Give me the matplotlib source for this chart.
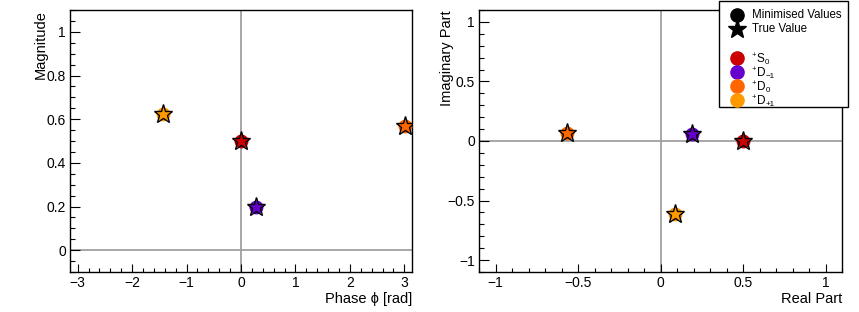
import matplotlib
matplotlib.use("Agg")
import matplotlib.pyplot as plt
from matplotlib.ticker import MultipleLocator, FuncFormatter
from matplotlib.patches import Rectangle

plt.rcParams['font.family'] = ['Liberation Sans', 'DejaVu Sans']
plt.rcParams['axes.unicode_minus'] = True

# ---- data ----
waves = ['S0', 'D-1', 'D0', 'D+1']
wave_letters = ['S', 'D', 'D', 'D']
wave_subs = ['0', '\u22121', '0', '+1']
colors = ['#cc0000', '#6600cc', '#ff6600', '#ff9900']
phase = [0.0, 0.28, 3.01, -1.43]
magnitude = [0.50, 0.20, 0.57, 0.625]
real_part = [0.50, 0.19, -0.565, 0.09]
imag_part = [0.0, 0.055, 0.07, -0.615]
legend_header = ['Minimised Values', 'True Value']

fig = plt.figure(figsize=(8.59, 3.12), dpi=100)
W, H = 859, 312

def ax_at(x0, y0, x1, y1):
    return fig.add_axes([x0 / W, 1 - y1 / H, (x1 - x0) / W, (y1 - y0) / H])

ax1 = ax_at(70, 10, 412, 272)
ax2 = ax_at(479, 10, 842, 272)

def fmt(v, pos):
    s = ('%g' % round(v, 6))
    if s == '-0':
        s = '0'
    return s.replace('-', '\u2212')

def style(ax, xmaj, xmin, ymaj, ymin):
    ax.xaxis.set_major_locator(MultipleLocator(xmaj))
    ax.xaxis.set_minor_locator(MultipleLocator(xmin))
    ax.yaxis.set_major_locator(MultipleLocator(ymaj))
    ax.yaxis.set_minor_locator(MultipleLocator(ymin))
    ax.xaxis.set_major_formatter(FuncFormatter(fmt))
    ax.yaxis.set_major_formatter(FuncFormatter(fmt))
    ax.tick_params(axis='x', which='major', direction='in', length=5.8, width=0.8, labelsize=10, pad=3)
    ax.tick_params(axis='x', which='minor', direction='in', length=2.9, width=0.8)
    ax.tick_params(axis='y', which='major', direction='in', length=7.4, width=0.8, labelsize=10, pad=3)
    ax.tick_params(axis='y', which='minor', direction='in', length=3.7, width=0.8)
    for s in ax.spines.values():
        s.set_linewidth(1.0)
    ax.axhline(0, color='#a0a0a0', lw=1.3, zorder=1)
    ax.axvline(0, color='#a0a0a0', lw=1.3, zorder=1)

style(ax1, 1, 0.2, 0.2, 0.05)
ax1.set_xlim(-3.14159, 3.14159)
ax1.set_ylim(-0.1, 1.1)
style(ax2, 0.5, 0.1, 0.5, 0.1)
ax2.set_xlim(-1.1, 1.1)
ax2.set_ylim(-1.1, 1.1)

for i in range(len(waves)):
    ax1.plot(phase[i], magnitude[i], 'o', ms=9, color=colors[i], mec=colors[i], zorder=3)
    ax1.plot(phase[i], magnitude[i], '*', ms=14, mfc='none', mec='black', mew=1.0, zorder=4)
    ax2.plot(real_part[i], imag_part[i], 'o', ms=9, color=colors[i], mec=colors[i], zorder=3)
    ax2.plot(real_part[i], imag_part[i], '*', ms=14, mfc='none', mec='black', mew=1.0, zorder=4)

# axis titles ROOT-style
ax1.set_xlabel('Phase \u03d5 [rad]', fontsize=10.5, loc='right', labelpad=1)
ax1.set_ylabel('Magnitude', fontsize=10.5, loc='top')
ax2.set_xlabel('Real Part', fontsize=10.5, loc='right', labelpad=1)
ax2.set_ylabel('Imaginary Part', fontsize=10.5, loc='top')
ax1.yaxis.set_label_coords(-22 / 342, 1.0)
ax2.yaxis.set_label_coords(-25 / 363, 1.0)

# manual ROOT-style legend in pixel coordinates
lg = fig.add_axes([0, 0, 1, 1], zorder=10)
lg.set_xlim(0, W)
lg.set_ylim(H, 0)
lg.axis('off')
lg.patch.set_alpha(0)
lg.add_patch(Rectangle((719, 1), 129, 106, facecolor='white', edgecolor='black', lw=1.0))
mx, tx = 737, 752
lg.plot(mx, 15, 'o', ms=9.5, color='black')
lg.text(tx, 15, legend_header[0], fontsize=8.3, va='center', ha='left')
lg.plot(mx, 29, '*', ms=14, color='black')
lg.text(tx, 29, legend_header[1], fontsize=8.3, va='center', ha='left')

renderer = fig.canvas.get_renderer()
rows = [58, 72, 86, 100]
for i in range(len(waves)):
    y = rows[i]
    lg.plot(mx, y, 'o', ms=9.5, color=colors[i])
    lg.text(tx, y - 0.5, '+', fontsize=5.5, va='baseline', ha='left')
    t = lg.text(tx + 4.5, y + 4, wave_letters[i], fontsize=8.5, va='baseline', ha='left')
    bb = t.get_window_extent(renderer)
    xend = bb.x1 * W / fig.bbox.width
    lg.text(xend + 0.5, y + 6.5, wave_subs[i], fontsize=5.8, va='baseline', ha='left')

fig.savefig('out.png', dpi=100)
